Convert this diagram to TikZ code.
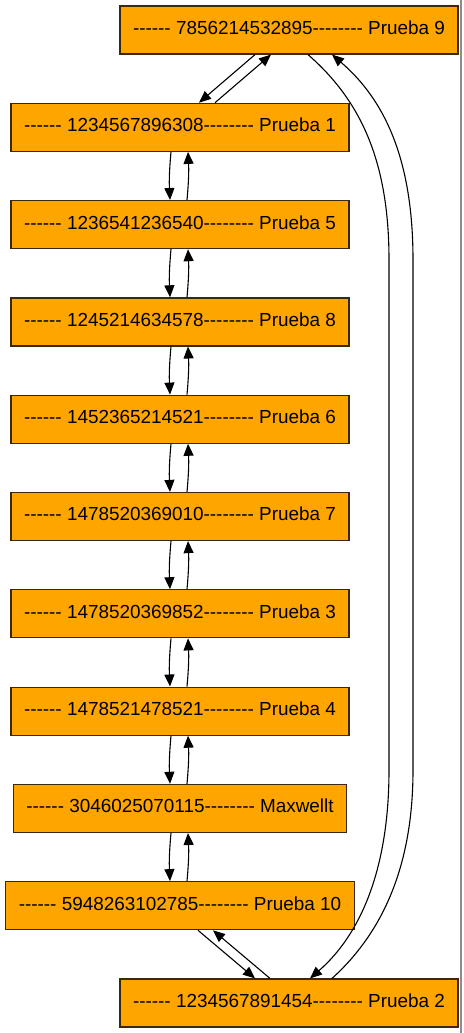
\documentclass[tikz,border=0pt]{standalone}
\usepackage{fontspec}
\setmainfont{Liberation Sans}[Ligatures=TeXOff]
\usetikzlibrary{arrows.meta}
\definecolor{boxfill}{RGB}{255,165,0}
\definecolor{boxline}{RGB}{60,40,10}
\definecolor{pageline}{RGB}{140,140,140}

\begin{document}
\begin{tikzpicture}[x=1pt, y=-1pt]
    \tikzstyle{every node} = [draw=boxline, fill=boxfill, line width=1.2pt, minimum height=48pt, inner xsep=13pt, font=\fontsize{18.9}{22}\selectfont]
    \tikzstyle{link} = [line width=1.1pt, -{Triangle[length=12pt,width=10pt]}]
    \useasboundingbox (0,0) rectangle (463,1033);
    \draw[pageline, line width=1.5pt] (461,0) -- (461,1033);

    \node (p9) at (289,30) {\strut ------ 7856214532895-------- Prueba 9};
    \node (p1) at (180,127.3) {\strut ------ 1234567896308-------- Prueba 1};
    \node (p5) at (180,224.6) {\strut ------ 1236541236540-------- Prueba 5};
    \node (p8) at (180,321.9) {\strut ------ 1245214634578-------- Prueba 8};
    \node (p6) at (180,419.2) {\strut ------ 1452365214521-------- Prueba 6};
    \node (p7) at (180,516.5) {\strut ------ 1478520369010-------- Prueba 7};
    \node (p3) at (180,613.8) {\strut ------ 1478520369852-------- Prueba 3};
    \node (p4) at (180,711.1) {\strut ------ 1478521478521-------- Prueba 4};
    \node (pmax) at (180,808.4) {\strut ------ 3046025070115-------- Maxwellt};
    \node (p10) at (180,905.7) {\strut ------ 5948263102785-------- Prueba 10};
    \node (p2) at (289,1003) {\strut ------ 1234567891454-------- Prueba 2};

    % top pair
    \draw[link] ([xshift=-34pt]p9.south) -- ([xshift=19pt]p1.north);
    \draw[link] ([xshift=35pt]p1.north) -- ([xshift=-18pt]p9.south);

    % the column
    \draw[link] ([xshift=-9pt]p1.south) to[bend right=4] ([xshift=-10pt]p5.north);
    \draw[link] ([xshift=7pt]p5.north) to[bend right=4] ([xshift=8pt]p1.south);
    \draw[link] ([xshift=-9pt]p5.south) to[bend right=4] ([xshift=-10pt]p8.north);
    \draw[link] ([xshift=7pt]p8.north) to[bend right=4] ([xshift=8pt]p5.south);
    \draw[link] ([xshift=-9pt]p8.south) to[bend right=4] ([xshift=-10pt]p6.north);
    \draw[link] ([xshift=7pt]p6.north) to[bend right=4] ([xshift=8pt]p8.south);
    \draw[link] ([xshift=-9pt]p6.south) to[bend right=4] ([xshift=-10pt]p7.north);
    \draw[link] ([xshift=7pt]p7.north) to[bend right=4] ([xshift=8pt]p6.south);
    \draw[link] ([xshift=-9pt]p7.south) to[bend right=4] ([xshift=-10pt]p3.north);
    \draw[link] ([xshift=7pt]p3.north) to[bend right=4] ([xshift=8pt]p7.south);
    \draw[link] ([xshift=-9pt]p3.south) to[bend right=4] ([xshift=-10pt]p4.north);
    \draw[link] ([xshift=7pt]p4.north) to[bend right=4] ([xshift=8pt]p3.south);
    \draw[link] ([xshift=-9pt]p4.south) to[bend right=4] ([xshift=-10pt]pmax.north);
    \draw[link] ([xshift=7pt]pmax.north) to[bend right=4] ([xshift=8pt]p4.south);
    \draw[link] ([xshift=-9pt]pmax.south) to[bend right=4] ([xshift=-10pt]p10.north);
    \draw[link] ([xshift=7pt]p10.north) to[bend right=4] ([xshift=8pt]pmax.south);

    % bottom pair
    \draw[link] ([xshift=18pt]p10.south) -- ([xshift=-34pt]p2.north);
    \draw[link] ([xshift=-19pt]p2.north) -- ([xshift=33pt]p10.south);

    % long way round
    \draw[link] ([xshift=19pt]p9.south) .. controls (360,100) and (389,160) .. (389,260)
        -- (389,770) .. controls (389,870) and (360,935) .. ([xshift=21pt]p2.north);
    \draw[link] ([xshift=43pt]p2.north) .. controls (380,935) and (413,870) .. (413,770)
        -- (413,260) .. controls (413,160) and (385,100) .. ([xshift=43pt]p9.south);
\end{tikzpicture}
\end{document}
